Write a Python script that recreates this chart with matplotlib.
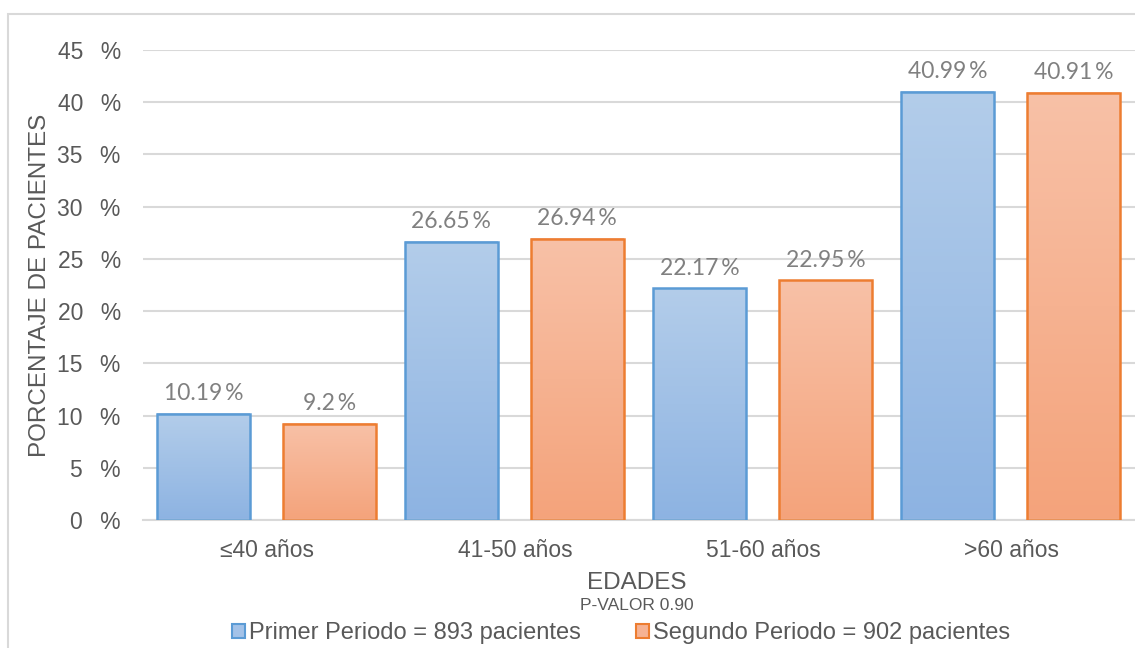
import numpy as np
import matplotlib
matplotlib.use('Agg')
import matplotlib.pyplot as plt
from matplotlib.patches import Rectangle, Patch
from matplotlib.colors import LinearSegmentedColormap

# data
categorias = ['≤40 años', '41-50 años', '51-60 años', '>60 años']
primer_periodo = [10.19, 26.65, 22.17, 40.99]
segundo_periodo = [9.2, 26.94, 22.95, 40.91]
etiquetas_y = ['0 %', '5 %', '10 %', '15 %', '20 %', '25 %', '30 %', '35 %', '40 %', '45 %']
leyenda = ['Primer Periodo = 893 pacientes', 'Segundo Periodo = 902 pacientes']

plt.rcParams['font.family'] = ['Liberation Sans', 'DejaVu Sans']

fig = plt.figure(figsize=(11.35, 6.48), dpi=100)
ax = fig.add_axes([143 / 1135, 1 - 520 / 648, 992 / 1135, 470 / 648])

# gray frame around the chart
fig.patches.append(Rectangle((8 / 1135, -0.1), 1.2, 1 - 14 / 648 + 0.1,
                             transform=fig.transFigure, fill=False,
                             edgecolor='#d9d9d9', linewidth=1.5, zorder=0))

cmap_azul = LinearSegmentedColormap.from_list('azul', ['#8db3e2', '#b3cdea'])
cmap_naranja = LinearSegmentedColormap.from_list('naranja', ['#f4a37b', '#f8c1a7'])
grad = np.linspace(0, 1, 256).reshape(-1, 1)

ancho = 0.375
x = np.arange(len(categorias))


def barra(x0, h, cmap, borde):
    ax.imshow(grad, extent=(x0, x0 + ancho, 0, h), origin='lower', cmap=cmap,
              aspect='auto', zorder=2)
    ax.add_patch(Rectangle((x0, 0), ancho, h, fill=False, edgecolor=borde,
                           linewidth=1.8, zorder=3))


for i in range(len(categorias)):
    xa = x[i] + 0.056
    xb = x[i] + 0.564
    barra(xa, primer_periodo[i], cmap_azul, '#5b9bd5')
    barra(xb, segundo_periodo[i], cmap_naranja, '#ed7d31')
    for xx, v in [(xa, primer_periodo[i]), (xb, segundo_periodo[i])]:
        ax.annotate(f'{v:g}\u2009%', (xx + ancho / 2, v), xytext=(0, 7),
                    textcoords='offset points', ha='center', va='bottom',
                    fontsize=16.5, color='#808080', family=['Lato', 'DejaVu Sans'])

ax.set_xlim(0, 4)
ax.set_ylim(0, 45)
ax.set_yticks(np.arange(0, 46, 5))
ax.set_yticklabels([e.replace(' ', '  \u2009') for e in etiquetas_y])
ax.set_xticks(x + 0.5)
ax.set_xticklabels(categorias)
ax.tick_params(axis='both', length=0, labelsize=16.5, labelcolor='#595959')
ax.tick_params(axis='y', pad=16)
ax.tick_params(axis='x', pad=14)
ax.grid(axis='y', color='#d9d9d9', linewidth=1.5, zorder=0)
ax.set_axisbelow(True)
for s in ['top', 'right', 'left']:
    ax.spines[s].set_visible(False)
ax.spines['bottom'].set_color('#d9d9d9')
ax.spines['bottom'].set_linewidth(1.5)

fig.text(40 / 1135, 1 - 285 / 648, 'PORCENTAJE DE PACIENTES', rotation=90,
         ha='center', va='center', fontsize=17.5, color='#595959')
fig.text(637 / 1135, 1 - 583 / 648, 'EDADES', ha='center', va='center',
         fontsize=17.5, color='#595959')
fig.text(637 / 1135, 1 - 606 / 648, 'P-VALOR 0.90', ha='center', va='center',
         fontsize=12.5, color='#595959')

handles = [Patch(facecolor='#a3c2e8', edgecolor='#5b9bd5', linewidth=1.5),
           Patch(facecolor='#f6b293', edgecolor='#ed7d31', linewidth=1.5)]
fig.legend(handles, leyenda, loc='center', ncol=2,
           bbox_to_anchor=(621 / 1135, 1 - 633 / 648), frameon=False,
           fontsize=17, labelcolor='#595959', handlelength=0.55,
           handleheight=0.55, handletextpad=0.2, columnspacing=2.3,
           borderpad=0, borderaxespad=0)

fig.savefig('out.png', dpi=100)
